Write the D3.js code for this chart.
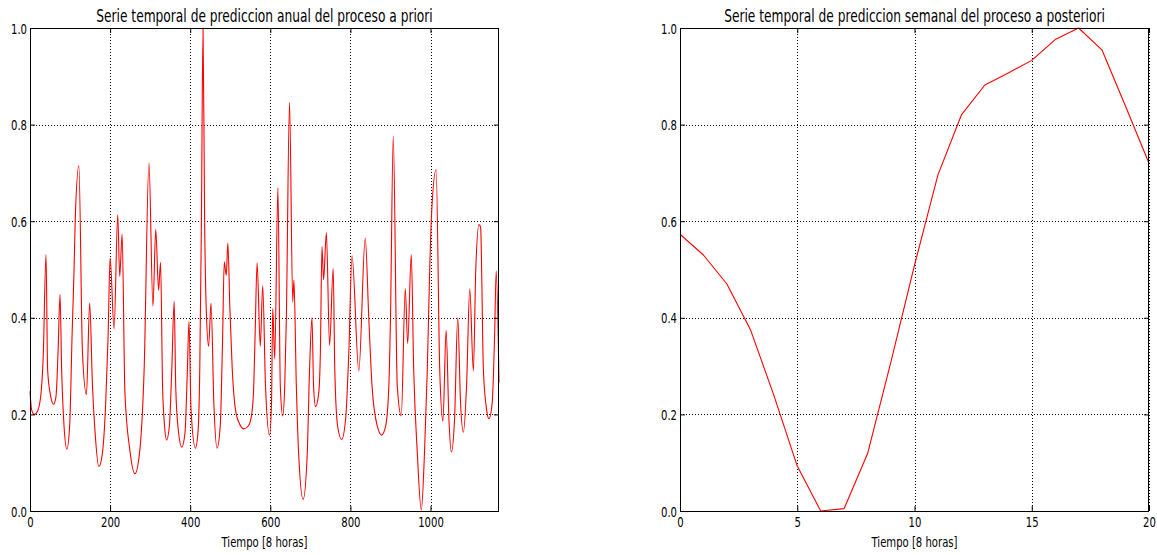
<!DOCTYPE html>
<html>
<head>
<meta charset="utf-8">
<script src="https://cdn.jsdelivr.net/npm/d3@7"></script>
<style>
  html, body { margin: 0; padding: 0; background: #fff; }
  svg text { font-family: "DejaVu Sans", sans-serif; fill: #000; }
</style>
</head>
<body>
<svg id="fig" width="1157" height="555"></svg>
<script>
// Serie anual (paso de 8 horas): instantes y valores normalizados
const tiempoAnual = [
  0, 4, 11, 19, 28, 33, 40, 44, 50, 59, 65, 70, 75, 79, 85, 92, 99, 105, 110, 113,
  122, 131, 141, 149, 156, 162, 172, 181, 189, 195, 200, 210, 219, 224, 230, 237,
  249, 262, 274, 285, 297, 307, 314, 321, 326, 331, 336, 341, 348, 354, 360, 364,
  371, 379, 387, 393, 397, 402, 413, 420, 424, 428, 432, 436, 440, 446, 452, 459,
  467, 475, 481, 485, 490, 494, 499, 505, 513, 524, 534, 546, 555, 558, 562, 567,
  575, 581, 588, 598, 603, 606, 611, 619, 625, 631, 636, 640, 648, 656, 659, 665,
  671, 682, 692, 698, 704, 708, 713, 721, 725, 729, 733, 740, 748, 757, 761, 768,
  778, 788, 796, 804, 821, 837, 846, 854, 867, 878, 888, 896, 900, 907, 917, 927,
  937, 943, 952, 958, 967, 977, 985, 992, 998, 1003, 1014, 1023, 1031, 1039, 1046, 1052,
  1060, 1068, 1075, 1082, 1090, 1098, 1107, 1113, 1121, 1125, 1132, 1140, 1146, 1154, 1160, 1164,
  1171
];
const prediccionAnual = [
  0.248, 0.210, 0.200, 0.207, 0.248, 0.320, 0.531, 0.293, 0.245, 0.221, 0.238, 0.328, 0.448, 0.293, 0.176, 0.128, 0.176, 0.362, 0.500, 0.605,
  0.715, 0.328, 0.241, 0.431, 0.259, 0.169, 0.092, 0.121, 0.224, 0.362, 0.524, 0.377, 0.613, 0.486, 0.573, 0.245,
  0.128, 0.077, 0.124, 0.293, 0.721, 0.424, 0.583, 0.457, 0.515, 0.259, 0.176, 0.147, 0.176, 0.293, 0.434, 0.252,
  0.162, 0.132, 0.162, 0.293, 0.393, 0.210, 0.130, 0.170, 0.300, 0.600, 1.000, 0.600, 0.420, 0.341, 0.430, 0.224,
  0.130, 0.176, 0.362, 0.516, 0.488, 0.555, 0.420, 0.293, 0.210, 0.179, 0.170, 0.177, 0.210, 0.245, 0.362, 0.514,
  0.341, 0.466, 0.259, 0.157, 0.224, 0.419, 0.315, 0.669, 0.259, 0.197, 0.259, 0.397, 0.846, 0.433, 0.478, 0.259,
  0.114, 0.024, 0.114, 0.293, 0.400, 0.259, 0.216, 0.245, 0.328, 0.547, 0.479, 0.576, 0.343, 0.502, 0.293, 0.176,
  0.148, 0.190, 0.328, 0.529, 0.290, 0.565, 0.397, 0.259, 0.176, 0.157, 0.176, 0.259, 0.397, 0.776, 0.259, 0.197,
  0.460, 0.347, 0.531, 0.293, 0.121, 0.002, 0.121, 0.293, 0.500, 0.621, 0.707, 0.293, 0.186, 0.374, 0.190, 0.122,
  0.190, 0.400, 0.224, 0.163, 0.259, 0.460, 0.290, 0.500, 0.593, 0.588, 0.293, 0.210, 0.191, 0.224, 0.362, 0.497,
  0.266
];

// Serie semanal a posteriori
const tiempoSemanal = [0, 1, 2, 3, 4, 5, 6, 7, 8, 9, 10, 11, 12, 13, 14, 15, 16, 17, 18, 19, 20];
const prediccionSemanal = [
  0.573, 0.530, 0.470, 0.376, 0.240, 0.093, 0.000, 0.005, 0.119, 0.310, 0.509,
  0.696, 0.820, 0.882, 0.907, 0.933, 0.976, 1.000, 0.954, 0.838, 0.720
];

const ticksAnual = [0, 200, 400, 600, 800, 1000];
const ticksSemanal = [0, 5, 10, 15, 20];
const ticksY = [0, 0.2, 0.4, 0.6, 0.8, 1.0];

const titulos = [
  "Serie temporal de prediccion anual del proceso a priori",
  "Serie temporal de prediccion semanal del proceso a posteriori"
];
const etiquetaX = "Tiempo [8 horas]";

// Compresión horizontal de la tipografía de la figura
const SQUEEZE = 0.72;
const svg = d3.select("#fig");

function squeezeText(sel, anchorX) {
  sel.attr("transform", `translate(${anchorX},0) scale(${SQUEEZE},1)`).attr("x", 0);
}

function panel(opts) {
  const { left, right, top, bottom, xDomain, xTicks, xs, ys, title, curve } = opts;
  const x = d3.scaleLinear().domain(xDomain).range([left, right]);
  const y = d3.scaleLinear().domain([0, 1]).range([bottom, top]);
  const g = svg.append("g");

  // rejilla punteada
  g.append("g").selectAll("line").data(xTicks).join("line")
    .attr("x1", d => Math.round(x(d)) + 0.5).attr("x2", d => Math.round(x(d)) + 0.5)
    .attr("y1", top).attr("y2", bottom)
    .attr("stroke", "#000").attr("stroke-width", 1).attr("stroke-dasharray", "1,2");
  g.append("g").selectAll("line").data(ticksY).join("line")
    .attr("x1", left).attr("x2", right)
    .attr("y1", d => Math.round(y(d)) + 0.5).attr("y2", d => Math.round(y(d)) + 0.5)
    .attr("stroke", "#000").attr("stroke-width", 1).attr("stroke-dasharray", "1,2");

  // serie
  const line = d3.line()
    .x((d, i) => x(xs[i]))
    .y(d => y(d))
    .curve(curve);
  g.append("path")
    .datum(ys)
    .attr("d", line)
    .attr("fill", "none")
    .attr("stroke", "#ff0000")
    .attr("stroke-width", 1.1)
    .attr("stroke-linejoin", "round");

  // ejes con marcas hacia dentro en los cuatro lados
  const fmtY = d3.format(".1f");
  const axB = g.append("g").attr("transform", `translate(0,${bottom})`)
    .call(d3.axisBottom(x).tickValues(xTicks).tickSizeInner(-5).tickSizeOuter(0).tickFormat(d3.format("d")));
  const axL = g.append("g").attr("transform", `translate(${left},0)`)
    .call(d3.axisLeft(y).tickValues(ticksY).tickSizeInner(-5).tickSizeOuter(0).tickFormat(fmtY));
  g.append("g").attr("transform", `translate(0,${top})`)
    .call(d3.axisTop(x).tickValues(xTicks).tickSizeInner(-5).tickSizeOuter(0).tickFormat(""));
  g.append("g").attr("transform", `translate(${right},0)`)
    .call(d3.axisRight(y).tickValues(ticksY).tickSizeInner(-5).tickSizeOuter(0).tickFormat(""));
  g.selectAll(".domain").remove();
  g.selectAll(".tick line").attr("stroke", "#000").attr("stroke-width", 1);

  axB.selectAll("text")
    .attr("font-size", 14).attr("font-family", null)
    .attr("y", 0).attr("dy", null)
    .attr("dominant-baseline", "alphabetic")
    .each(function () {
      d3.select(this).attr("transform", `translate(0,15.5) scale(${SQUEEZE},1)`).attr("x", 0);
    });
  axL.selectAll("text")
    .attr("font-size", 14).attr("font-family", null)
    .attr("dy", "0.36em")
    .attr("text-anchor", "end")
    .each(function () {
      d3.select(this).attr("transform", `translate(-3,0) scale(${SQUEEZE},1)`).attr("x", 0);
    });

  // marco
  g.append("rect")
    .attr("x", left + 0.5).attr("y", top + 0.5)
    .attr("width", right - left - 1).attr("height", bottom - top)
    .attr("fill", "none").attr("stroke", "#000").attr("stroke-width", 1);

  const cx = (left + right) / 2;
  g.append("text")
    .attr("y", top - 5.5)
    .attr("text-anchor", "middle")
    .attr("font-size", 17)
    .text(title)
    .call(squeezeText, cx);
  g.append("text")
    .attr("y", bottom + 36.5)
    .attr("text-anchor", "middle")
    .attr("font-size", 14)
    .text(etiquetaX)
    .call(squeezeText, cx);
}

panel({
  left: 30, right: 499, top: 28, bottom: 511,
  xDomain: [0, 1171], xTicks: ticksAnual,
  xs: tiempoAnual, ys: prediccionAnual,
  title: titulos[0], curve: d3.curveMonotoneX
});

panel({
  left: 680, right: 1149, top: 28, bottom: 511,
  xDomain: [0, 20], xTicks: ticksSemanal,
  xs: tiempoSemanal, ys: prediccionSemanal,
  title: titulos[1], curve: d3.curveLinear
});
</script>
</body>
</html>
